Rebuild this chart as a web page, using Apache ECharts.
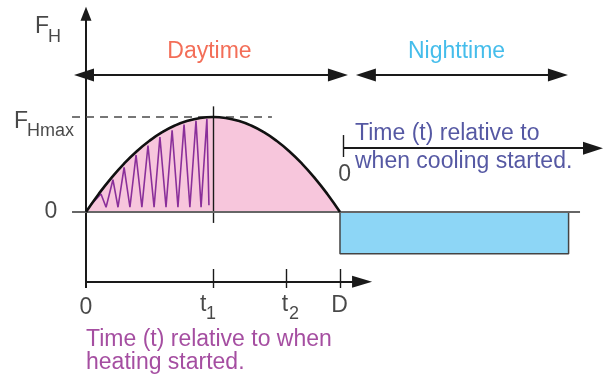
<!DOCTYPE html>
<html>
<head>
<meta charset="utf-8">
<script src="https://cdn.jsdelivr.net/npm/echarts@6/dist/echarts.min.js"></script>
<style>
  html, body { margin: 0; background: #fff; }
  #main { width: 609px; height: 385px; }
</style>
</head>
<body>
<div id="main"></div>
<script>
// time unit: heating starts at 0, daytime ends at D = 10; force unit: FHmax = 1
const t1 = 5, t2 = 7.9, D = 10, Fmax = 1;
const curveT = [0, 0.5, 1, 1.5, 2, 2.5, 3, 3.5, 4, 4.5, 5, 5.5, 6, 6.5, 7, 7.5, 8, 8.5, 9, 9.5, 10];
const curveF = [0, 0.19, 0.36, 0.51, 0.64, 0.75, 0.84, 0.91, 0.96, 0.99, 1, 0.99, 0.96, 0.91, 0.84, 0.75, 0.64, 0.51, 0.36, 0.19, 0];
// zig-zag (shaded part up to t1)
const zigT = [0.2, 0.59, 0.79, 1.06, 1.26, 1.5, 1.73, 1.97, 2.2, 2.44, 2.68, 2.91, 3.15, 3.39, 3.62, 3.86, 4.09, 4.33, 4.53, 4.76, 4.84];
const zigF = [0.08, 0.19, 0.05, 0.34, 0.05, 0.47, 0.05, 0.6, 0.05, 0.7, 0.05, 0.79, 0.05, 0.86, 0.05, 0.92, 0.05, 0.96, 0.05, 0.98, 0.07];
// nighttime cooling block
const nightT = [D, D, 19, 19];
const nightF = [0, -0.44, -0.44, 0];
const tickT = [t1, t2, D];

const chart = echarts.init(document.getElementById('main'));
const font = "'Liberation Sans', Arial, sans-serif";

function seg(a, b, color, width, arrows, size, type) {
  const s = size || [13, 20];
  return [
    { coord: a, symbol: arrows[0] ? 'triangle' : 'none', symbolSize: s,
      lineStyle: { color: color, width: width, type: type || 'solid' }, itemStyle: { color: color } },
    { coord: b, symbol: arrows[1] ? 'triangle' : 'none', symbolSize: s }
  ];
}

const k = '#1a1a1a';
const lines = [
  seg([0, -0.8], [0, 2.088], k, 2, [0, 1], [11, 14]),
  seg([0, -0.735], [10.87, -0.735], k, 1.8, [0, 1], [12, 20]),
  seg([t1, 1.112], [t1, -0.115], k, 1.4, [0, 0]),
  seg([-0.55, Fmax], [7.32, Fmax], '#4a4a4a', 1.5, [0, 0], null, [8, 6]),
  seg([-0.55, 0], [19.45, 0], '#666', 1.8, [0, 0]),
  seg([-0.08, 1.442], [9.92, 1.442], k, 1.8, [1, 1]),
  seg([11.02, 1.442], [18.58, 1.442], k, 1.8, [1, 1]),
  seg([10.12, 0.672], [19.96, 0.672], k, 1.8, [0, 1]),
  seg([10.12, 0.81], [10.12, 0.579], k, 1.4, [0, 0])
].concat(tickT.map(t => seg([t, -0.6], [t, -0.8], k, 1.4, [0, 0])));

function txt(name, t, f, size, color, align, lh) {
  return {
    name: name, value: [t, f],
    label: { show: true, position: 'inside', formatter: '{b}', fontSize: size, color: color,
      fontFamily: font, align: align || 'center', verticalAlign: 'middle', lineHeight: lh || size }
  };
}

const texts = [
  txt('F', -2.01, 1.953, 23, k, 'left'),
  txt('H', -1.5, 1.837, 18, k, 'left'),
  txt('F', -2.83, 0.953, 23, k, 'left'),
  txt('Hmax', -2.32, 0.853, 18, k, 'left'),
  txt('0', -1.38, 0, 23, k),
  txt('Daytime', 4.86, 1.684, 23, '#f04a2e'),
  txt('Nighttime', 14.59, 1.684, 23, '#17ace6'),
  txt('Time (t) relative to\nwhen cooling started.', 10.59, 0.676, 23, '#2b2e8c', 'left', 27.5),
  txt('0', 10.18, 0.389, 23, k),
  txt('0', 0, -1.01, 23, k),
  txt('t', 4.61, -0.979, 23, k),
  txt('1', 4.92, -1.07, 18, k),
  txt('t', 7.83, -0.979, 23, k),
  txt('2', 8.19, -1.07, 18, k),
  txt('D', 9.98, -0.989, 23, k),
  txt('Time (t) relative to when\nheating started.', 0, -1.465, 23, '#8e2289', 'left', 22.5)
];

chart.setOption({
  animation: false,
  grid: { left: 0, right: 0, top: 0, bottom: 0 },
  xAxis: { type: 'value', min: -3.386, max: 20.591, show: false },
  yAxis: { type: 'value', min: -1.8211, max: 2.2316, show: false },
  series: [
    {
      type: 'line', name: 'night', z: 1, symbol: 'none', silent: true,
      data: nightT.map((t, i) => [t, nightF[i]]),
      lineStyle: { color: '#444', width: 1.5 },
      areaStyle: { color: '#8dd6f6', opacity: 1 }
    },
    {
      type: 'line', name: 'heating', z: 2, symbol: 'none', silent: true, smooth: true,
      data: curveT.map((t, i) => [t, curveF[i]]),
      lineStyle: { width: 0 },
      areaStyle: { color: '#f7c6dc', opacity: 1 }
    },
    {
      type: 'line', name: 'zigzag', z: 3, symbol: 'none', silent: true,
      data: zigT.map((t, i) => [t, zigF[i]]),
      lineStyle: { color: '#8a2f9a', width: 1.6 }
    },
    {
      type: 'line', name: 'frame', z: 4, symbol: 'none', silent: true,
      data: [[-3, -1.7]], lineStyle: { width: 0 },
      markLine: { silent: true, animation: false, label: { show: false }, data: lines }
    },
    {
      type: 'line', name: 'curve', z: 5, symbol: 'none', silent: true, smooth: true,
      data: curveT.map((t, i) => [t, curveF[i]]),
      lineStyle: { color: '#111', width: 2.6 }
    },
    {
      type: 'scatter', name: 'labels', z: 6, silent: true, symbolSize: 0,
      itemStyle: { color: 'rgba(0,0,0,0)' },
      data: texts
    }
  ]
});
</script>
</body>
</html>
